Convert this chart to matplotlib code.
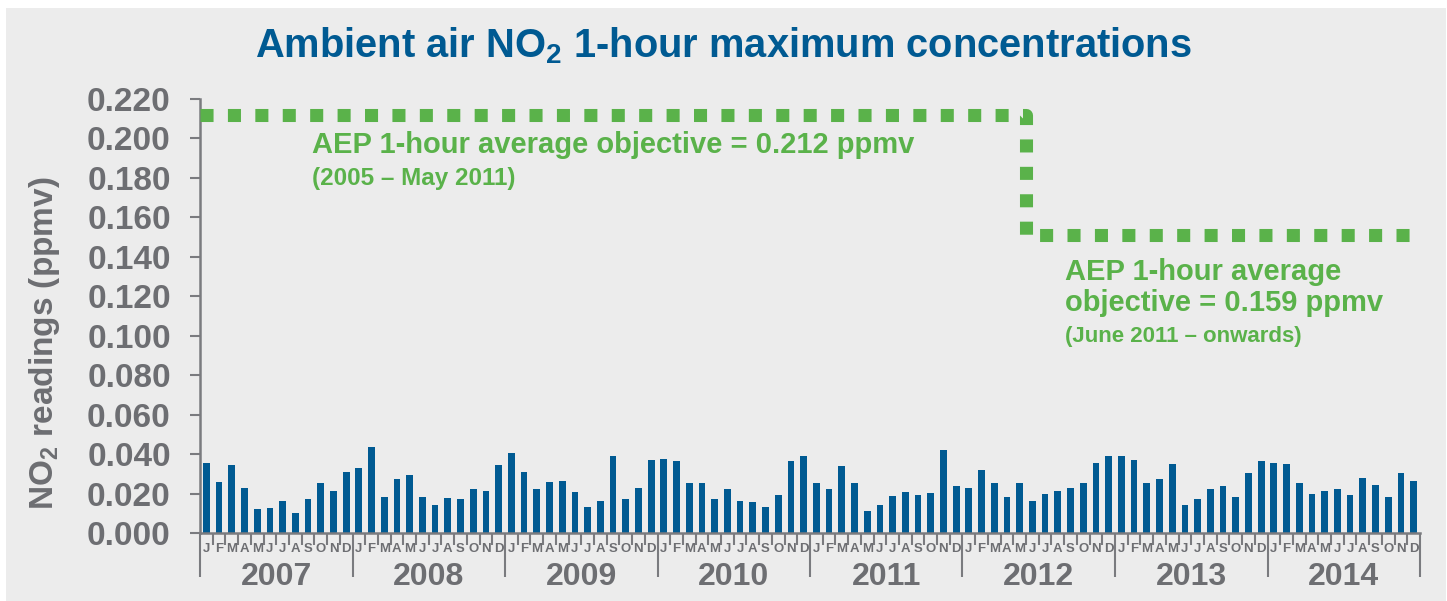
import matplotlib
matplotlib.use("Agg")
import matplotlib.pyplot as plt
from matplotlib.patches import Rectangle
import matplotlib.transforms as mtransforms

years = ["2007", "2008", "2009", "2010", "2011", "2012", "2013", "2014"]
months = ["J", "F", "M", "A", "M", "J", "J", "A", "S", "O", "N", "D"]

no2_2007 = [0.0357, 0.0260, 0.0347, 0.0229, 0.0121, 0.0127, 0.0162, 0.0101, 0.0173, 0.0255, 0.0214, 0.0311]
no2_2008 = [0.0327, 0.0434, 0.0183, 0.0275, 0.0296, 0.0183, 0.0142, 0.0178, 0.0173, 0.0224, 0.0214, 0.0347]
no2_2009 = [0.0404, 0.0311, 0.0224, 0.0260, 0.0265, 0.0209, 0.0132, 0.0162, 0.0388, 0.0173, 0.0229, 0.0368]
no2_2010 = [0.0373, 0.0363, 0.0255, 0.0255, 0.0173, 0.0224, 0.0162, 0.0157, 0.0132, 0.0193, 0.0363, 0.0388]
no2_2011 = [0.0255, 0.0224, 0.0342, 0.0255, 0.0111, 0.0142, 0.0188, 0.0209, 0.0193, 0.0204, 0.0419, 0.0239]
no2_2012 = [0.0229, 0.0321, 0.0255, 0.0183, 0.0255, 0.0162, 0.0198, 0.0214, 0.0229, 0.0255, 0.0357, 0.0388]
no2_2013 = [0.0388, 0.0368, 0.0255, 0.0275, 0.0352, 0.0142, 0.0173, 0.0224, 0.0239, 0.0183, 0.0306, 0.0363]
no2_2014 = [0.0357, 0.0352, 0.0255, 0.0198, 0.0214, 0.0224, 0.0193, 0.0280, 0.0245, 0.0183, 0.0306, 0.0265]

# objective line as drawn: 0.212 until the step, then the lower level
objective_x = [-0.5, 64.5, 64.5, 95.5]
objective_y = [0.212, 0.212, 0.151, 0.151]

yticks = [0.000, 0.020, 0.040, 0.060, 0.080, 0.100, 0.120, 0.140, 0.160, 0.180, 0.200, 0.220]

BLUE = "#005A92"
GREEN = "#5AB24A"
GREY = "#6D6E72"
AXIS = "#7A7B7F"
BG = "#ECECEC"

plt.rcParams["mathtext.fontset"] = "custom"
plt.rcParams["mathtext.rm"] = "Liberation Sans:bold"
plt.rcParams["mathtext.it"] = "Liberation Sans:bold"
plt.rcParams["mathtext.bf"] = "Liberation Sans:bold"
plt.rcParams["font.family"] = ["Liberation Sans", "DejaVu Sans"]

values = no2_2007 + no2_2008 + no2_2009 + no2_2010 + no2_2011 + no2_2012 + no2_2013 + no2_2014
xs = list(range(len(values)))

fig = plt.figure(figsize=(14.47, 6.01), dpi=100)
fig.patches.append(Rectangle((6 / 1447, 0), 1440 / 1447, 1 - 8 / 601,
                             transform=fig.transFigure, facecolor=BG,
                             edgecolor="none", zorder=-10))
ax = fig.add_axes([200 / 1447, 1 - 533 / 601, 1220 / 1447, 434 / 601])
ax.set_facecolor("none")

ax.bar(xs, values, width=0.53, color=BLUE, zorder=2)
ax.plot(objective_x, objective_y, color=GREEN, lw=9.4, dashes=(1.0, 1.1),
        solid_capstyle="butt", dash_capstyle="butt", zorder=3)

ax.set_xlim(-0.5, len(values) - 0.5)
ax.set_ylim(0, 0.22)

for s in ["top", "right"]:
    ax.spines[s].set_visible(False)
for s in ["left", "bottom"]:
    ax.spines[s].set_color(AXIS)
    ax.spines[s].set_linewidth(1.8)

ax.set_yticks(yticks)
ax.set_yticklabels([f"{v:.3f}" for v in yticks])
ax.tick_params(axis="y", direction="out", length=7, width=1.5, color=AXIS,
               pad=14, labelsize=24, labelcolor=GREY)
for lab in ax.get_yticklabels():
    lab.set_fontweight("bold")

# month and year boundaries
ax.set_xticks([i * 12 - 0.5 for i in range(len(years) + 1)])
ax.set_xticks([i - 0.5 for i in range(len(values) + 1)], minor=True)
ax.set_xticklabels([])
ax.tick_params(axis="x", which="major", direction="out", length=32, width=1.5, color=AXIS)
ax.tick_params(axis="x", which="minor", direction="out", length=8.5, width=1.5, color=AXIS)

trans = mtransforms.blended_transform_factory(ax.transData, ax.transAxes)
for i in xs:
    ax.annotate(months[i % 12], (i, 0), xycoords=trans, xytext=(0, -11.5),
                textcoords="offset points", ha="center", va="center",
                fontsize=9.5, fontweight="bold", color=GREY, annotation_clip=False)
for k, yr in enumerate(years):
    ax.annotate(yr, (k * 12 + 5.5, 0), xycoords=trans, xytext=(0, -32),
                textcoords="offset points", ha="center", va="center",
                fontsize=23, fontweight="bold", color=GREY, annotation_clip=False)

ax.text(8.3, 0.1928, "AEP 1-hour average objective = 0.212 ppmv", fontsize=21,
        fontweight="bold", color=GREEN, va="baseline")
ax.text(8.3, 0.1765, "(2005 \u2013 May 2011)", fontsize=17.5,
        fontweight="bold", color=GREEN, va="baseline")

ax.text(67.55, 0.1284, "AEP 1-hour average", fontsize=21, fontweight="bold",
        color=GREEN, va="baseline")
ax.text(67.55, 0.1126, "objective = 0.159 ppmv", fontsize=21, fontweight="bold",
        color=GREEN, va="baseline")
ax.text(67.55, 0.0969, "(June 2011 \u2013 onwards)", fontsize=16, fontweight="bold",
        color=GREEN, va="baseline")

fig.text(45 / 1447, 1 - 343 / 601, r"NO$_2$ readings (ppmv)", rotation=90,
         ha="center", va="center", fontsize=24, fontweight="bold", color=GREY)

fig.text(723 / 1447, 1 - 46 / 601, r"Ambient air NO$_2$ 1-hour maximum concentrations",
         ha="center", va="center", fontsize=28.7, fontweight="bold", color=BLUE)

fig.savefig("out.png", dpi=100)
